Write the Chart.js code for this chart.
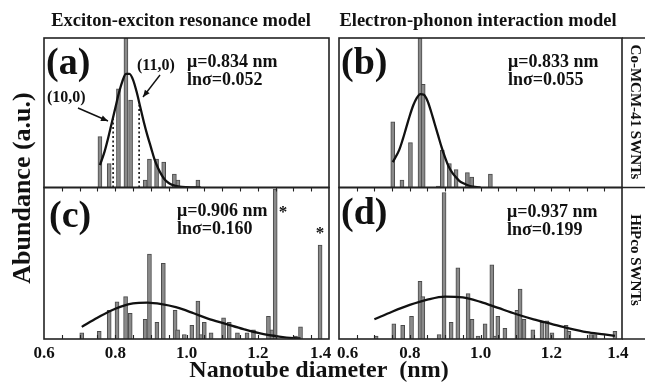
<!DOCTYPE html>
<html><head><meta charset="utf-8">
<script src="https://cdn.jsdelivr.net/npm/chart.js@4.4.0/dist/chart.umd.min.js"></script>
<style>
html,body{margin:0;padding:0;background:#fff;}
#wrap{position:relative;width:645px;height:383px;overflow:hidden;background:#fff;}
#wrap canvas{position:absolute;left:0;top:0;}
</style></head><body>
<div id="wrap">
<canvas id="ca" width="645" height="383"></canvas>
<canvas id="cb" width="645" height="383"></canvas>
<canvas id="cc" width="645" height="383"></canvas>
<canvas id="cd" width="645" height="383"></canvas>
</div>
<script>
// ---------- DATA ----------
// Panel (a): Exciton-exciton resonance model, Co-MCM-41 SWNTs
const aDiam  = [0.757,0.783,0.809,0.830,0.843,0.884,0.896,0.916,0.936,0.966,0.976,1.032];
const aAbund = [0.34,0.16,0.66,1.00,0.585,0.05,0.19,0.19,0.17,0.09,0.05,0.05];
const aCurveX = [0.757,0.77,0.78,0.79,0.80,0.81,0.82,0.83,0.84,0.85,0.86,0.87,0.88,0.89,0.90,0.91,0.92,0.93,0.94,0.95,0.96,0.98,1.00,1.04];
const aCurveY = [0.15,0.24,0.33,0.43,0.53,0.63,0.71,0.76,0.76,0.72,0.64,0.54,0.44,0.35,0.27,0.19,0.13,0.085,0.05,0.03,0.018,0.006,0.002,0.0];
// (10,0) and (11,0) tube diameters (dotted markers)
const aMarkDiam = [0.794, 0.867];
const aMarkTop  = [0.47, 0.55];

// Panel (b): Electron-phonon interaction model, Co-MCM-41 SWNTs
const bDiam  = [0.752,0.778,0.802,0.829,0.838,0.881,0.892,0.912,0.931,0.963,0.975,1.028];
const bAbund = [0.44,0.05,0.30,1.00,0.69,0.01,0.25,0.16,0.12,0.10,0.07,0.09];
const bCurveX = [0.752,0.77,0.78,0.79,0.80,0.81,0.82,0.83,0.84,0.85,0.86,0.87,0.88,0.89,0.90,0.91,0.92,0.93,0.94,0.95,0.97,1.00];
const bCurveY = [0.17,0.25,0.32,0.40,0.48,0.55,0.60,0.625,0.62,0.58,0.51,0.43,0.35,0.27,0.20,0.14,0.10,0.07,0.045,0.03,0.01,0.0];

// Panel (c): Exciton-exciton resonance model, HiPco SWNTs
const cDiam  = [0.706,0.755,0.783,0.805,0.829,0.842,0.884,0.896,0.917,0.935,0.968,0.975,0.994,1.015,1.032,1.041,1.050,1.069,1.104,1.120,1.143,1.170,1.188,1.230,1.240,1.249,1.306,1.320,1.375];
const cAbund = [0.04,0.05,0.19,0.245,0.28,0.17,0.13,0.56,0.11,0.50,0.19,0.06,0.03,0.09,0.25,0.03,0.11,0.04,0.14,0.11,0.04,0.04,0.06,0.15,0.06,0.99,0.02,0.08,0.62];
const cCurveX = [0.706,0.75,0.80,0.85,0.89,0.93,0.97,1.02,1.06,1.11,1.16,1.21,1.26,1.30,1.32];
const cCurveY = [0.08,0.14,0.20,0.235,0.24,0.23,0.21,0.17,0.135,0.10,0.065,0.035,0.016,0.006,0.004];

// Panel (d): Electron-phonon interaction model, HiPco SWNTs
const dDiam  = [0.705,0.755,0.780,0.805,0.829,0.837,0.883,0.897,0.917,0.936,0.965,0.976,0.993,1.013,1.032,1.041,1.049,1.069,1.103,1.112,1.123,1.148,1.174,1.188,1.202,1.242,1.250,1.312,1.324,1.380];
const dAbund = [0.02,0.10,0.09,0.15,0.38,0.28,0.03,0.967,0.11,0.47,0.30,0.13,0.02,0.10,0.49,0.02,0.15,0.07,0.19,0.33,0.13,0.06,0.11,0.12,0.04,0.09,0.05,0.03,0.03,0.05];
const dCurveX = [0.70,0.75,0.80,0.85,0.90,0.95,1.00,1.05,1.10,1.15,1.20,1.25,1.30,1.35,1.38];
const dCurveY = [0.13,0.18,0.225,0.26,0.28,0.275,0.245,0.205,0.165,0.13,0.10,0.07,0.045,0.03,0.02];

const xTickLabels = ['0.6','0.8','1.0','1.2','1.4'];

// ---------- LAYOUT / STYLE ----------
const W = 645, H = 383, AXH = 28;
const FONT = '"Liberation Serif","Times New Roman",serif';
const colL = {l:44, r:329}, colR = {l:339, r:622};
const rowT = {t:38, b:187.5}, rowB = {t:187.5, b:339};

function txt(ctx, s, x, y, size, align, rot) {
  ctx.save();
  ctx.font = 'bold ' + size + 'px ' + FONT;
  ctx.fillStyle = '#111';
  ctx.textAlign = align || 'left';
  ctx.textBaseline = 'middle';
  ctx.translate(x, y);
  if (rot) ctx.rotate(rot);
  ctx.fillText(s, 0, 0);
  ctx.restore();
}

function framePlugin(isBottom, texts, extraDraw) {
  return {
    id: 'frame',
    afterDraw(chart) {
      const {ctx, chartArea: a, scales: {x}} = chart;
      ctx.save();
      ctx.strokeStyle = '#222';
      ctx.lineWidth = 1.6;
      ctx.strokeRect(a.left, a.top, a.right - a.left, a.bottom - a.top);
      ctx.lineWidth = 1.1;
      ctx.beginPath();
      for (let k = 13; k <= 27; k++) {
        const px = Math.round(x.getPixelForValue(k * 0.05)) + 0.5;
        if (isBottom) {
          ctx.moveTo(px, a.bottom); ctx.lineTo(px, a.bottom - 4);
          ctx.moveTo(px, a.top); ctx.lineTo(px, a.top + 4);
        }
      }
      ctx.stroke();
      ctx.restore();
      (texts || []).forEach(t => txt(ctx, t[0], t[1], t[2], t[3], t[4], t[5]));
      if (extraDraw) extraDraw(chart);
    }
  };
}

function makePanel(id, diam, abund, cx, cy, col, row, isBottom, side, extraSets, texts, extraDraw) {
  const bars = diam.map((d, i) => ({x: d, y: abund[i]}));
  const curve = cx.map((d, i) => ({x: d, y: cy[i]}));
  const datasets = [
    {type: 'line', data: curve, borderColor: '#111', borderWidth: 2.3, pointRadius: 0,
     cubicInterpolationMode: 'monotone', fill: false, order: 0},
    ...(extraSets || []),
    {type: 'bar', data: bars, backgroundColor: '#8a8a8a', borderColor: '#4a4a4a', borderWidth: 1,
     barThickness: 4, order: 5}
  ];
  const xScale = {type: 'linear', min: 0.6, max: 1.4, offset: false, display: isBottom,
      grid: {display: false, drawTicks: false}, border: {display: false},
      ticks: {stepSize: 0.2, autoSkip: false, maxRotation: 0, padding: 4, color: '#111',
              font: {family: FONT, size: 17, weight: 'bold'},
              callback: (v) => {
                const i = Math.round((v - 0.6) / 0.2);
                let s = xTickLabels[i] || '';
                if (side === 'L' && i === 4) s = s + '\u2003';
                if (side === 'R' && i === 0) s = '\u2003' + s;
                if (side === 'R' && i === 4) s = s + '\u2002';
                return s;
              }}};
  if (isBottom) xScale.afterFit = (s) => { s.height = AXH; };
  return new Chart(document.getElementById(id), {
    type: 'bar',
    data: {datasets},
    options: {
      responsive: false, animation: false, devicePixelRatio: 1,
      layout: {padding: {left: col.l, right: W - col.r, top: row.t,
                         bottom: isBottom ? H - row.b - AXH : H - row.b}},
      plugins: {legend: {display: false}, tooltip: {enabled: false}, title: {display: false}},
      scales: {x: xScale, y: {min: 0, max: 1, display: false}}
    },
    plugins: [framePlugin(isBottom, texts, extraDraw)]
  });
}

// dotted (10,0)/(11,0) marker lines for panel (a)
const markSets = aMarkDiam.map((d, i) => ({
  type: 'line', data: [{x: d, y: 0}, {x: d, y: aMarkTop[i]}], borderColor: '#111',
  borderWidth: 1.6, borderDash: [2, 2.5], pointRadius: 0, order: 1
}));

function arrow(ctx, x0, y0, x1, y1) {
  ctx.save();
  ctx.strokeStyle = '#111'; ctx.fillStyle = '#111'; ctx.lineWidth = 1.4;
  ctx.beginPath(); ctx.moveTo(x0, y0); ctx.lineTo(x1, y1); ctx.stroke();
  const ang = Math.atan2(y1 - y0, x1 - x0), L = 7, w = 3;
  ctx.beginPath();
  ctx.moveTo(x1, y1);
  ctx.lineTo(x1 - L * Math.cos(ang) + w * Math.sin(ang), y1 - L * Math.sin(ang) - w * Math.cos(ang));
  ctx.lineTo(x1 - L * Math.cos(ang) - w * Math.sin(ang), y1 - L * Math.sin(ang) + w * Math.cos(ang));
  ctx.closePath(); ctx.fill();
  ctx.restore();
}

makePanel('ca', aDiam, aAbund, aCurveX, aCurveY, colL, rowT, false, 'L', markSets, [
  ['(a)', 46, 64, 38], ['\u03bc=0.834 nm', 187, 62, 18], ['ln\u03c3=0.052', 187, 80, 18],
  ['(11,0)', 137, 66, 16], ['(10,0)', 47, 98, 16],
  ['Exciton-exciton resonance model', 181, 21, 18.5, 'center'],
  ['Electron-phonon interaction model', 478, 21, 18.5, 'center'],
  ['Abundance (a.u.)', 23, 188, 26, 'center', -Math.PI / 2],
  ['Nanotube diameter  (nm)', 319, 371, 24, 'center'],
  ['Co-MCM-41 SWNTs', 635, 112, 15, 'center', Math.PI / 2],
  ['HiPco SWNTs', 635, 260, 15, 'center', Math.PI / 2]
], (chart) => {
  const {ctx} = chart;
  arrow(ctx, 78, 108, 108, 121);
  arrow(ctx, 160, 75, 143, 97);
  ctx.save();
  ctx.strokeStyle = '#222'; ctx.lineWidth = 1.6;
  ctx.beginPath();
  [38, 187.5, 339].forEach(y => { ctx.moveTo(622, y); ctx.lineTo(645, y); });
  ctx.stroke();
  ctx.restore();
});

makePanel('cb', bDiam, bAbund, bCurveX, bCurveY, colR, rowT, false, 'R', [], [
  ['(b)', 341, 64, 38], ['\u03bc=0.833 nm', 508, 62, 18], ['ln\u03c3=0.055', 508, 80, 18]
]);

makePanel('cc', cDiam, cAbund, cCurveX, cCurveY, colL, rowB, true, 'L', [], [
  ['(c)', 49, 217, 38], ['\u03bc=0.906 nm', 177, 211, 18], ['ln\u03c3=0.160', 177, 229, 18],
  ['*', 283, 213, 17, 'center'], ['*', 320, 234, 17, 'center']
]);

makePanel('cd', dDiam, dAbund, dCurveX, dCurveY, colR, rowB, true, 'R', [], [
  ['(d)', 341, 214, 38], ['\u03bc=0.937 nm', 507, 212, 18], ['ln\u03c3=0.199', 507, 230, 18]
]);
</script>
</body></html>
